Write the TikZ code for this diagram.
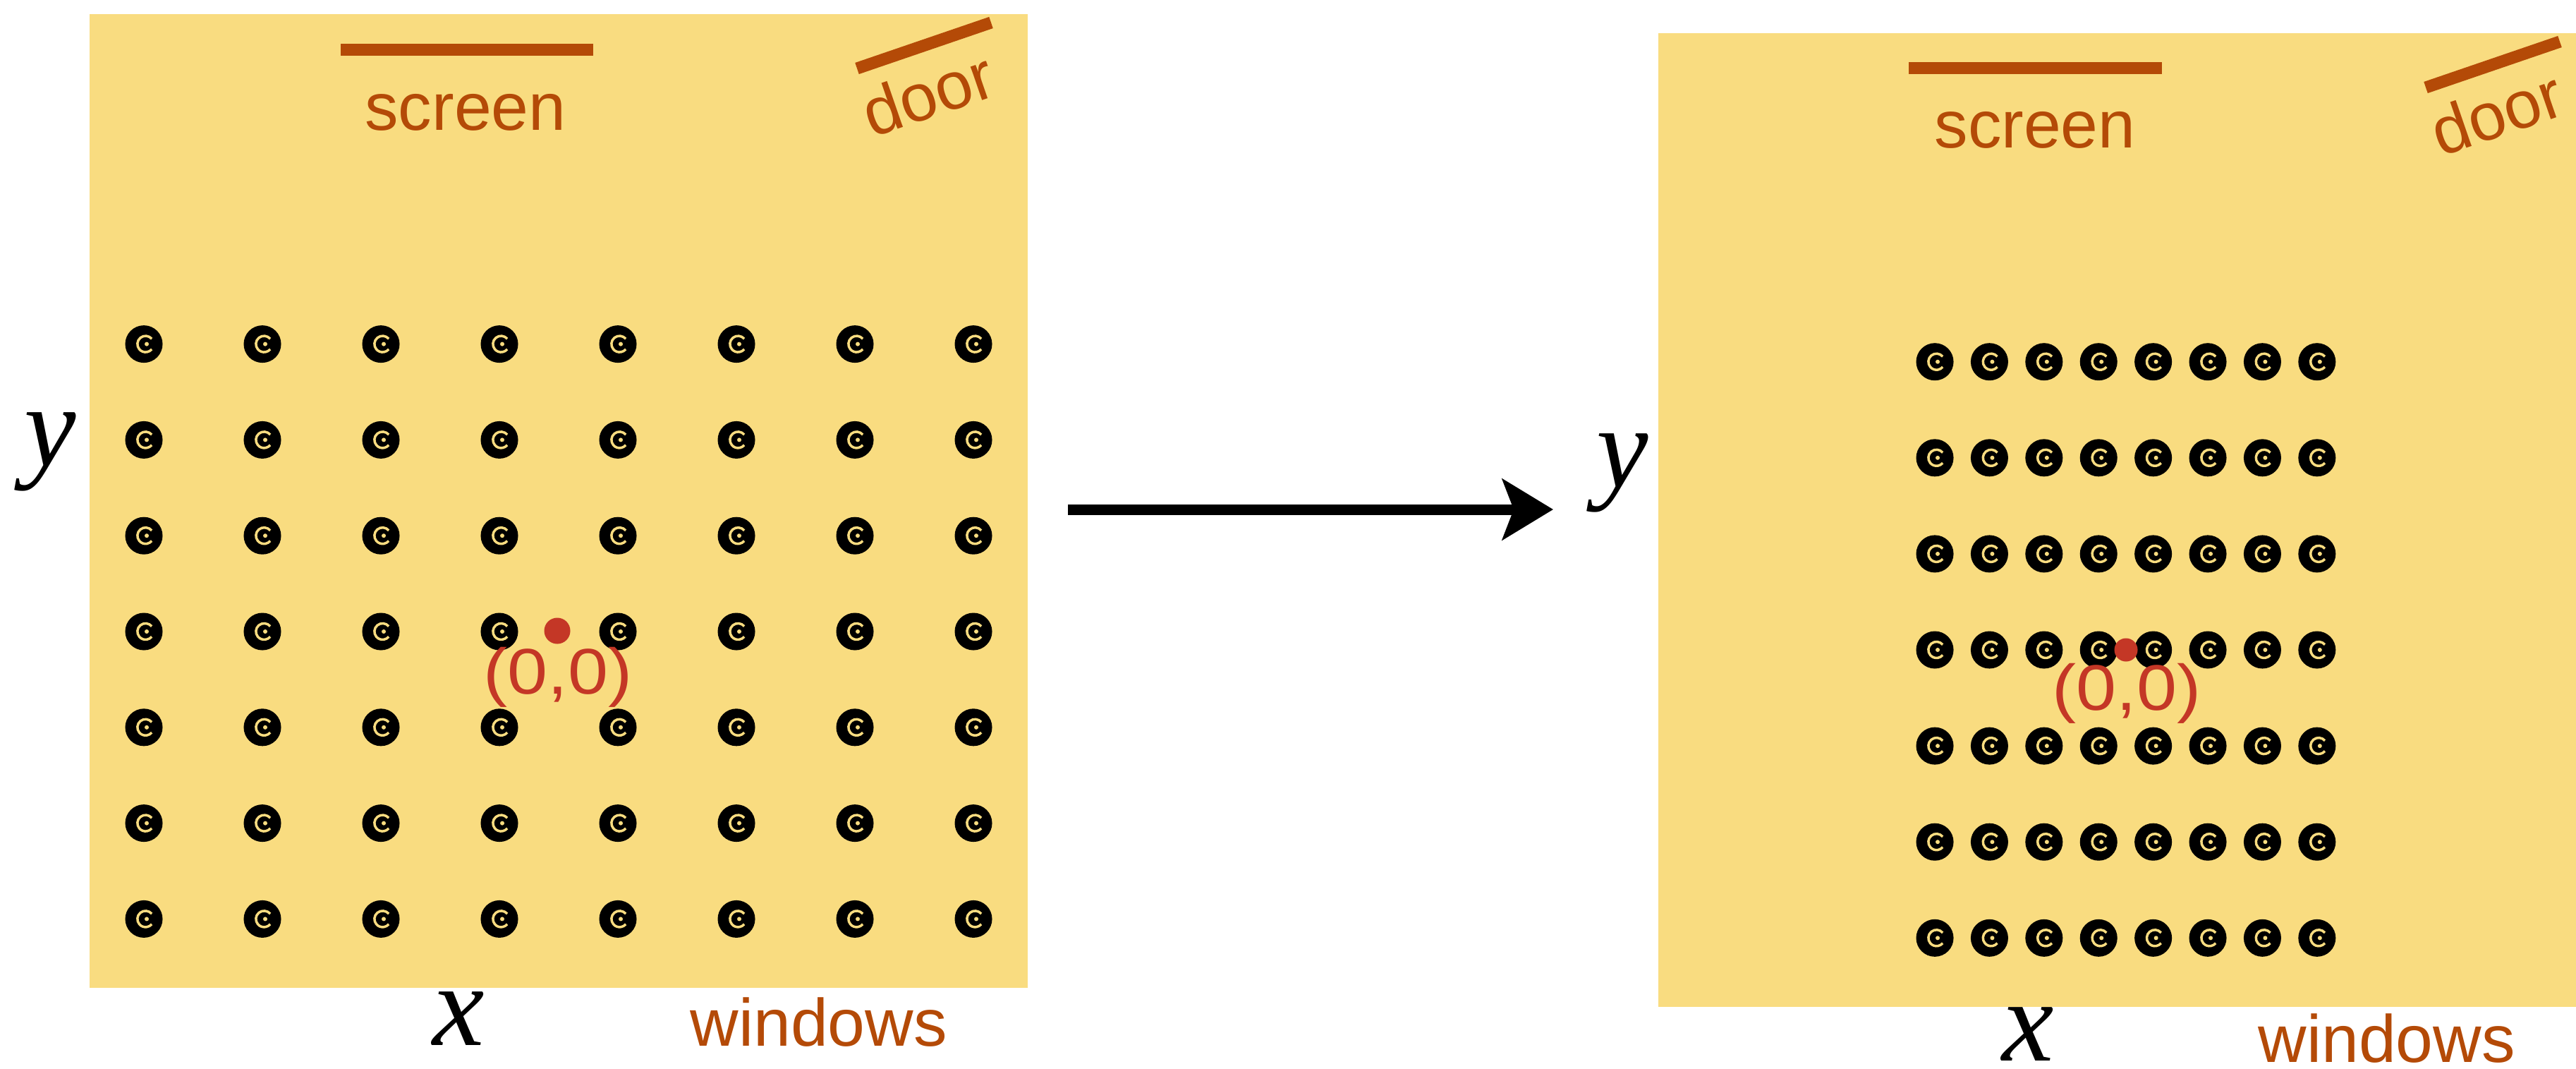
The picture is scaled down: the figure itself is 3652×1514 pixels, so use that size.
\documentclass[tikz,border=0pt]{standalone}
\usepackage{fontspec}
\setmainfont{Liberation Sans}
\newfontfamily\timesfont{Liberation Serif}
\usetikzlibrary{arrows.meta}
\definecolor{pad}{HTML}{F9DC80}
\definecolor{rust}{HTML}{B44A07}
\definecolor{chalkred}{HTML}{C43726}
\begin{document}
\begin{tikzpicture}[x=0.01cm,y=-0.01cm,
  panel/.style={fill=pad, draw=none},
  wall/.style={draw=rust, line width=0.17cm},
  lbl/.style={text=rust, inner sep=0pt, font=\fontsize{27}{32}\selectfont},
  axlbl/.style={text=black, inner sep=0pt, font=\timesfont\itshape\fontsize{47}{52}\selectfont},
  originlbl/.style={text=chalkred, inner sep=0pt, xscale=1.12, font=\fontsize{26}{30}\selectfont},
  seat/.style={circle, fill=black, minimum size=0.53cm, inner sep=0pt,
    path picture={\draw[pad, line width=0.035cm]
      ([shift={(0.1115cm,0.0743cm)}]path picture bounding box.center)
      arc[start angle=40, end angle=320, radius=0.115cm];
      \fill[pad] ([shift={(0.04cm,0cm)}]path picture bounding box.center) circle (0.03cm);}},
  origin/.style={circle, fill=chalkred, minimum size=0.37cm, inner sep=0pt}]
\useasboundingbox (0,0) rectangle (3652,1514);

% ---------- left panel ----------
\fill[panel] (127,20) rectangle (1457,1400);
\draw[wall] (483,70.5) -- (841,70.5);
\node[lbl, anchor=base] (scrL) at (660,184) {screen};
\draw[wall] (1215,97) -- (1405,32);
\node[lbl, rotate=19, anchor=base west] (doorL) at (1236,196) {door};
\foreach \i in {0,...,7}{
  \foreach \j in {0,...,6}{
    \node[seat] (L-\i-\j) at ({204+168*\i},{487.6+135.8*\j}) {};
  }
}
\node[origin] (oL) at (790,894) {};
\node[originlbl] (oLt) at (791,960) {(0,0)};
\node[axlbl] (yL) at (71,640) {y};
\node[axlbl] (xL) at (650,1444) {x};
\node[lbl, anchor=base west] (winL) at (978,1482) {windows};

% ---------- arrow ----------
\coordinate (arrS) at (1514,722);
\coordinate (arrE) at (2202,722);
\draw[line width=0.15cm, -{Stealth[length=0.72cm, width=0.86cm, inset=0.16cm]}] (arrS) -- (arrE);

% ---------- right panel ----------
\fill[panel] (2351,47) rectangle (3652,1427);
\draw[wall] (2706,96.5) -- (3065,96.5);
\node[lbl, anchor=base] (scrR) at (2885,209) {screen};
\draw[wall] (3439,124) -- (3629,59);
\node[lbl, rotate=19, anchor=base west] (doorR) at (3460,223) {door};
\foreach \i in {0,...,7}{
  \foreach \j in {0,...,6}{
    \node[seat] (R-\i-\j) at ({2743+77.4*\i},{512.7+136.1*\j}) {};
  }
}
\node[origin, minimum size=0.33cm] (oR) at (3014,921) {};
\node[originlbl] (oRt) at (3015,983) {(0,0)};
\node[axlbl] (yR) at (2300,670) {y};
\node[axlbl] (xR) at (2875,1466) {x};
\node[lbl, anchor=base west] (winR) at (3201,1505) {windows};
\end{tikzpicture}
\end{document}
